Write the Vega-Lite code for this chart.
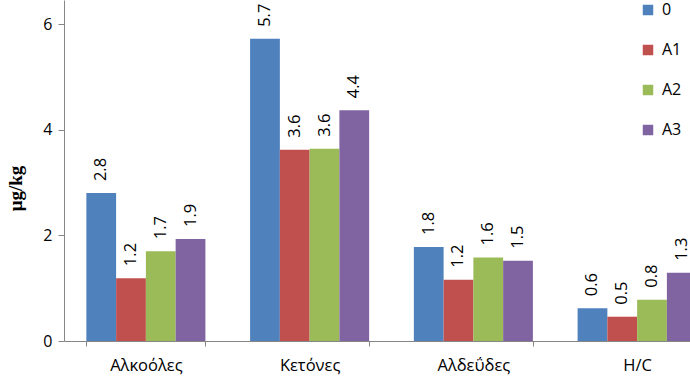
{
  "$schema": "https://vega.github.io/schema/vega-lite/v6.json",
  "width": 626,
  "height": 341,
  "autosize": {"type": "none"},
  "padding": {"left": 64, "top": 0, "right": 0, "bottom": 37},
  "background": "white",
  "config": {
    "view": {"stroke": null},
    "font": "Open Sans"
  },
  "data": {
    "values": [
      {"group": "Αλκοόλες", "series": "0", "value": 2.80},
      {"group": "Αλκοόλες", "series": "A1", "value": 1.19},
      {"group": "Αλκοόλες", "series": "A2", "value": 1.70},
      {"group": "Αλκοόλες", "series": "A3", "value": 1.93},
      {"group": "Κετόνες", "series": "0", "value": 5.72},
      {"group": "Κετόνες", "series": "A1", "value": 3.62},
      {"group": "Κετόνες", "series": "A2", "value": 3.64},
      {"group": "Κετόνες", "series": "A3", "value": 4.37},
      {"group": "Αλδεΰδες", "series": "0", "value": 1.78},
      {"group": "Αλδεΰδες", "series": "A1", "value": 1.16},
      {"group": "Αλδεΰδες", "series": "A2", "value": 1.58},
      {"group": "Αλδεΰδες", "series": "A3", "value": 1.52},
      {"group": "H/C", "series": "0", "value": 0.62},
      {"group": "H/C", "series": "A1", "value": 0.46},
      {"group": "H/C", "series": "A2", "value": 0.78},
      {"group": "H/C", "series": "A3", "value": 1.29}
    ]
  },
  "encoding": {
    "x": {
      "field": "group",
      "type": "nominal",
      "sort": ["Αλκοόλες", "Κετόνες", "Αλδεΰδες", "H/C"],
      "scale": {"range": [0, 655], "paddingInner": 0.273, "paddingOuter": 0.1365},
      "axis": {
        "title": null,
        "labelAngle": 0,
        "labelFontSize": 16.5,
        "labelColor": "#000000",
        "labelPadding": 11,
        "tickBand": "extent",
        "tickSize": 5,
        "tickColor": "#868686",
        "domainColor": "#868686",
        "grid": false
      }
    },
    "xOffset": {"field": "series", "type": "nominal", "sort": ["0", "A1", "A2", "A3"]},
    "y": {
      "field": "value",
      "type": "quantitative",
      "scale": {"domain": [0, 6.455], "nice": false},
      "axis": {
        "title": "μg/kg",
        "titleFont": "Liberation Serif",
        "titleFontWeight": "bold",
        "titleFontSize": 19,
        "titleColor": "#000000",
        "titleAngle": -90,
        "titleAlign": "center",
        "titleBaseline": "middle",
        "titleX": -49,
        "titleY": 188,
        "values": [0, 2, 4, 6],
        "labelFontSize": 16,
        "labelColor": "#000000",
        "labelPadding": 6,
        "tickSize": 6,
        "tickColor": "#868686",
        "domainColor": "#868686",
        "grid": false
      }
    }
  },
  "layer": [
    {
      "mark": {"type": "bar"},
      "encoding": {
        "color": {
          "field": "series",
          "type": "nominal",
          "sort": ["0", "A1", "A2", "A3"],
          "scale": {"domain": ["0", "A1", "A2", "A3"], "range": ["#4F81BD", "#C0504D", "#9BBB59", "#8064A2"]},
          "legend": {
            "title": null,
            "orient": "none",
            "legendX": 576,
            "legendY": 2,
            "symbolType": "square",
            "symbolSize": 110,
            "symbolStrokeWidth": 0,
            "labelFontSize": 16,
            "labelColor": "#000000",
            "labelOffset": 6,
            "rowPadding": 24
          }
        }
      }
    },
    {
      "mark": {"type": "text", "angle": -90, "align": "left", "baseline": "middle", "dx": 12, "fontSize": 16.5, "color": "#000000"},
      "encoding": {
        "text": {"field": "value", "type": "quantitative", "format": ".1f"}
      }
    }
  ]
}
